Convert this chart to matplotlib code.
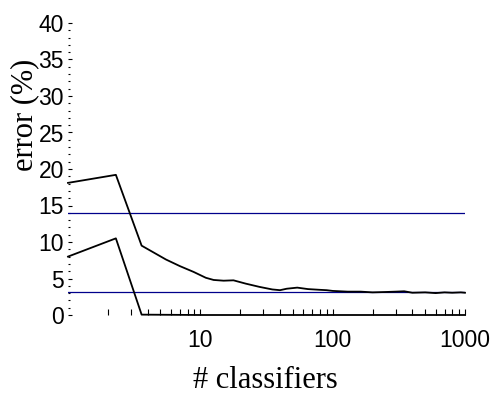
import matplotlib
matplotlib.use("Agg")
import matplotlib.pyplot as plt
from matplotlib.ticker import LogLocator, MultipleLocator, NullFormatter, FixedLocator, FixedFormatter

# training error curve (upper) and test-ish curve (lower)
upper_x = [1, 2.3, 3.6, 5.5, 7, 8.9, 11, 12.6, 15, 17.8, 22, 28, 35, 40, 45, 54,
           65, 80, 90, 100, 130, 163, 200, 250, 300, 347, 400, 500, 600, 700, 800, 930, 1000]
upper_y = [18.1, 19.2, 9.5, 7.6, 6.7, 5.9, 5.1, 4.8, 4.7, 4.75, 4.3, 3.85, 3.5, 3.4, 3.6, 3.75,
           3.55, 3.45, 3.4, 3.3, 3.2, 3.2, 3.1, 3.15, 3.2, 3.25, 3.05, 3.1, 3.0, 3.1, 3.05, 3.1, 3.05]
lower_x = [1, 2.3, 3.6, 10, 100, 1000]
lower_y = [8.0, 10.5, 0.05, 0.0, 0.0, 0.0]
ref_levels = [14.0, 3.1]

xticks = [10, 100, 1000]
xticklabels = ["10", "100", "1000"]
yticks = [0, 5, 10, 15, 20, 25, 30, 35, 40]

fig = plt.figure(figsize=(4.91, 4.08), dpi=100)
ax = fig.add_axes([68 / 491, 1 - 315 / 408, 397 / 491, 292 / 408])

for lvl in ref_levels:
    ax.axhline(lvl, color="#00008b", lw=0.9)
ax.plot(upper_x, upper_y, color="black", lw=1.3, clip_on=False)
ax.plot(lower_x, lower_y, color="black", lw=1.3, clip_on=False)

ax.set_xscale("log")
ax.set_xlim(1, 1000)
ax.set_ylim(0, 40)
for s in ax.spines.values():
    s.set_visible(False)

tick_font = {"family": ["Liberation Sans Narrow", "Liberation Sans"], "size": 16.5}
ax.xaxis.set_major_locator(FixedLocator(xticks))
ax.xaxis.set_major_formatter(FixedFormatter(xticklabels))
ax.xaxis.set_minor_locator(LogLocator(base=10, subs=range(2, 10)))
ax.xaxis.set_minor_formatter(NullFormatter())
ax.set_yticks(yticks)
ax.yaxis.set_minor_locator(MultipleLocator(1))
for lab in ax.get_xticklabels() + ax.get_yticklabels():
    lab.set_fontfamily(tick_font["family"])
    lab.set_fontsize(tick_font["size"])

ax.tick_params(axis="x", which="both", direction="in", length=4, width=0.8, pad=10)
ax.tick_params(axis="y", which="major", direction="in", length=3, width=0.8, pad=3)
ax.tick_params(axis="y", which="minor", direction="in", length=1.5, width=0.8)

fig.text(25 / 491, 1 - 115 / 408, "error (%)", rotation=90, ha="center", va="center",
         family="Liberation Serif", fontsize=22)
fig.text(265 / 491, 1 - 380 / 408, "# classifiers", ha="center", va="center",
         family="Liberation Serif", fontsize=22)

fig.savefig("out.png", dpi=100)
